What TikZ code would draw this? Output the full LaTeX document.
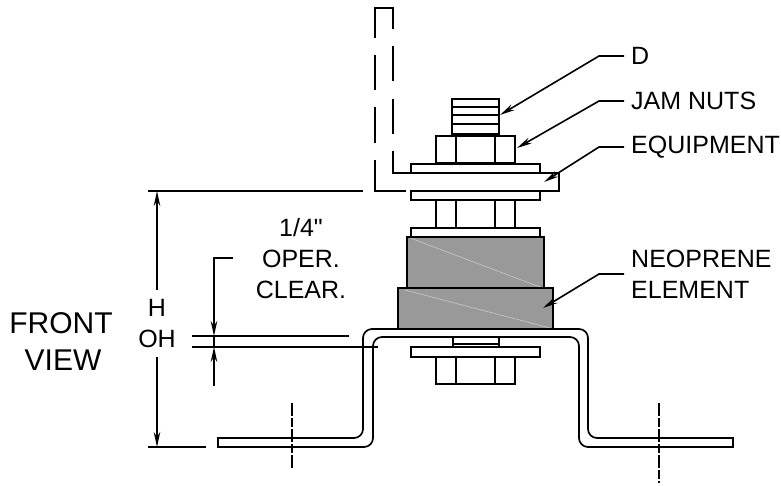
\documentclass[tikz,border=0pt]{standalone}
\usepackage{fontspec}
\setmainfont{Liberation Sans}[Ligatures=TeXOff]
\usepackage{tikz}
\usetikzlibrary{arrows.meta}
\usetikzlibrary{positioning}
\definecolor{rubber}{HTML}{999999}
\tikzset{part/.style = {line width = 1.7pt}}
\tikzset{bend line/.style = {part, line cap = rect, rounded corners = 9pt}}
\tikzset{heavy/.style = {line width = 2.3pt}}
\tikzset{dimline/.style = {line width = 1.6pt}}
\tikzset{leader/.style = {line width = 1.6pt, -{Stealth[length = 15pt, width = 6.5pt]}}}
\tikzset{label/.style = {font = \fontsize{25}{30}\selectfont, inner sep = 0, text = black}}
\tikzset{centermark/.style = {line width = 1.4pt, dash pattern = on 13pt off 2pt on 9pt off 2pt}}
\begin{document}
\begin{tikzpicture}[x = 1pt, y = -1pt]
      \useasboundingbox (0, 0) rectangle (781, 485);
      % bolt and hardware
      \foreach \y in {107,115,124} {
        \draw [part] (452, \y) -- (499, \y);
      }
      \draw [part] (452, 99) rectangle (499, 134);
      \foreach \top/\bot in {136/163,200/228,357/384} {
        \draw [part] (436, \top) rectangle (515, \bot);
        \draw [part] (456, \top) -- (456, \bot);
        \draw [part] (495, \top) -- (495, \bot);
      }
      \foreach \top/\bot in {164/173,191/200,228/237,347/357} {
        \draw [part] (411, \top) rectangle (540, \bot);
      }
      \draw [part] (453, 337) rectangle (499, 347);
      \draw [part] (453, 344) -- (499, 344);
      % equipment
      \draw [part] (393, 151) -- (393, 173) -- (559, 173) -- (559, 191) -- (410, 191);
      \draw [part] (406, 191) -- (375, 191) -- (375, 160);
      \draw [part] (375, 143) -- (375, 107);
      \draw [part] (375, 90) -- (375, 55);
      \draw [part] (375, 38) -- (375, 8) -- (393, 8) -- (393, 29);
      \draw [part] (393, 46) -- (393, 81);
      \draw [part] (393, 99) -- (393, 134);
      % neoprene
      \draw [heavy, fill = rubber] (407, 237) rectangle (544, 288);
      \draw [heavy, fill = rubber] (398, 288) rectangle (553, 329);
      \draw [white!55!rubber, line width = 0.5pt] (410, 238) -- (540, 287);
      \draw [white!55!rubber, line width = 0.5pt] (405, 290) -- (550, 328);
      % bracket
      \draw [bend line] (218, 438) -- (363, 438) -- (363, 329) -- (588, 329) -- (588, 438) -- (733, 438);
      \draw [bend line] (733, 447) -- (579, 447) -- (579, 337) -- (373, 337) -- (373, 447) -- (218, 447);
      \draw [part, line cap = rect] (218, 438) -- (218, 447);
      \draw [part, line cap = rect] (733, 438) -- (733, 447);
      \draw [centermark] (292, 403) -- (292, 469);
      \draw [centermark] (659, 403) -- (659, 483);
      % dimensions
      \draw [dimline] (148, 191) -- (363, 191);
      \draw [dimline] (148, 447) -- (206, 447);
      \draw [dimline] (192, 336) -- (349, 336);
      \draw [dimline] (192, 347) -- (378, 347);
      \node [label] (lblH) at (157, 308) {H};
      \node [label] (lblOH) at (157, 339) {OH};
      \draw [leader] (lblH.north |- 0, 290) -- (157, 191);
      \draw [leader] (lblOH.south |- 0, 357) -- (157, 447);
      \node [label] (lblQuarter) at (301, 228) {1/4"};
      \node [label] (lblOper) at (301, 259) {OPER.};
      \node [label] (lblClear) at (301, 290) {CLEAR.};
      \draw [leader] (233, 258) -- (214, 258) -- (214, 336);
      \draw [dimline] (214, 336) -- (214, 347);
      \draw [leader] (214, 386) -- (214, 347);
      \node [label, font = \fontsize{30}{36}\selectfont] (lblFront) at (61, 323) {FRONT};
      \node [label, font = \fontsize{30}{36}\selectfont] (lblView) at (63, 360) {VIEW};
      % callouts
      \node [label, anchor = west] (lblD) at (631, 56) {D};
      \node [label, anchor = west] (lblJam) at (631, 101) {JAM NUTS};
      \node [label, anchor = west] (lblEquip) at (631, 147) {EQUIPMENT};
      \node [label, anchor = west] (lblNeo) at (631, 259) {NEOPRENE};
      \node [label, anchor = west] (lblElem) at (631, 290) {ELEMENT};
      \coordinate (tipD) at (500, 115);
      \coordinate (tipJam) at (517, 148);
      \coordinate (tipEquip) at (544, 182);
      \coordinate (tipNeo) at (543, 308);
      \draw [leader] ([xshift = -7pt]lblD.west) -- ++(-25, 0) -- (tipD);
      \draw [leader] ([xshift = -7pt]lblJam.west) -- ++(-25, 0) -- (tipJam);
      \draw [leader] ([xshift = -7pt]lblEquip.west) -- ++(-25, 0) -- (tipEquip);
      \draw [leader] (624, 274) -- (599, 274) -- (tipNeo);
    \end{tikzpicture}
\end{document}
